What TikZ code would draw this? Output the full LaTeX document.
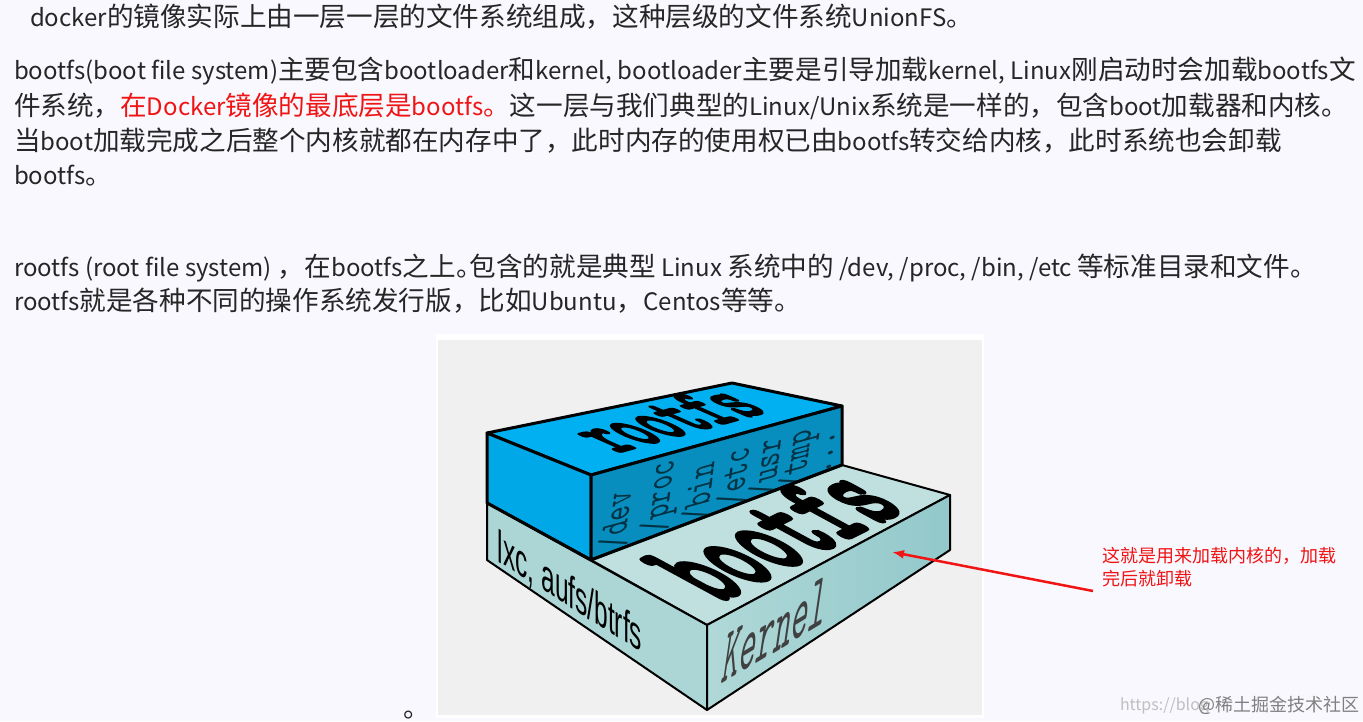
\documentclass[tikz,border=0pt]{standalone}
\usepackage{fontspec}
\usetikzlibrary{arrows.meta}
\setmainfont{Noto Sans CJK SC}
\newfontfamily\layersans{Liberation Sans}
\definecolor{mypage}{RGB}{248,248,254}
\definecolor{myshot}{RGB}{240,240,240}
\definecolor{myred}{RGB}{240,20,20}
\definecolor{myrootup}{RGB}{0,176,240}
\definecolor{myrootleft}{RGB}{0,168,232}
\definecolor{myrootfront}{RGB}{8,142,190}
\definecolor{mybootup}{RGB}{192,224,224}
\definecolor{mybootleft}{RGB}{172,214,214}
\definecolor{mybootfrontA}{RGB}{176,216,216}
\definecolor{mybootfrontB}{RGB}{146,200,202}
\newcommand{\lat}[1]{{\fontsize{24}{26}\selectfont #1}}
\newcommand{\thick}[2]{\special{pdf:code 2 Tr #1 w}#2\special{pdf:code 0 Tr}}
\tikzset{
    common/.style={anchor=base west, inner sep=0pt, outer sep=0pt},
    para/.style={common, font=\fontsize{26.6}{30}\selectfont, text=black!85},
    note/.style={common, font=\fontsize{18}{22}\selectfont, text=myred},
    face/.style={draw=black, line width=3pt, line join=round},
    thinface/.style={draw=black, line width=2pt, line join=round},
    skewed/.style={anchor=base, inner sep=0pt, transform shape},
    heavy/.style={skewed, font=\ttfamily\bfseries\fontsize{10}{12}\selectfont},
    dirname/.style={skewed, text=black!65!myrootfront, font=\ttfamily\fontsize{10}{12}\selectfont,
        cm={0.34,2.74,-4,-1.1,(0,0)}},
    stamp/.style={common, font=\fontsize{16}{20}\selectfont}
}

\begin{document}
\begin{tikzpicture}[x=1pt, y=-1pt]
    \useasboundingbox (0,0) rectangle (1363,721);
    \fill[mypage] (0,0) rectangle (1363,721);

    \node[para] (intro) at (30,26) {\lat{docker}的镜像实际上由一层一层的文件系统组成，这种层级的文件系统\lat{UnionFS}。};
    \node[para] (bootA) at (14,79) {\lat{bootfs(boot file system)}主要包含\lat{bootloader}和\lat{kernel, bootloader}主要是引导加载\lat{kernel, Linux}刚启动时会加载\lat{bootfs}文};
    \node[para] (bootB) at (14,115) {件系统，\textcolor{myred}{在\lat{Docker}镜像的最底层是\lat{bootfs}。}这一层与我们典型的\lat{Linux/Unix}系统是一样的，包含\lat{boot}加载器和内核。};
    \node[para] (bootC) at (14,150) {当\lat{boot}加载完成之后整个内核就都在内存中了，此时内存的使用权已由\lat{bootfs}转交给内核，此时系统也会卸载};
    \node[para] (bootD) at (14,184) {\lat{bootfs}。};
    \node[para] (rootA) at (14,276) {\lat{rootfs (root file system) }，\hspace{1pt}在\lat{bootfs}之上。\hspace{-13pt}包含的就是典型\lat{ Linux }系统中的\lat{ /dev, /proc, /bin, /etc }等标准目录和文件。};
    \node[para] (rootB) at (14,310) {\lat{rootfs}就是各种不同的操作系统发行版，比如\lat{Ubuntu}，\lat{Centos}等等。};
    \node[para] (dot) at (403,717) {。};

    \fill[white] (436,334) rectangle (984,718);
    \fill[myshot] (438,340) rectangle (982,715);

    \coordinate (ra) at (487,433);
    \coordinate (rb) at (732,383);
    \coordinate (rc) at (842,406);
    \coordinate (rd) at (591,475);
    \coordinate (re) at (487,503);
    \coordinate (rf) at (591,560);
    \coordinate (rg) at (842,465);
    \coordinate (bb) at (950,495);
    \coordinate (bc) at (707,625);
    \coordinate (bd) at (707,710);
    \coordinate (be) at (950,550);
    \coordinate (bf) at (487,560);

    \draw[face, fill=myrootup] (ra) -- (rb) -- (rc) -- (rd) -- cycle;
    \draw[face, fill=myrootleft] (ra) -- (rd) -- (rf) -- (re) -- cycle;
    \draw[face, fill=myrootfront] (rd) -- (rc) -- (rg) -- (rf) -- cycle;

    \node[dirname] (dev) at (628,518) {/dev};
    \node[dirname] (proc) at (670,495) {/proc};
    \node[dirname] (bin) at (711,490) {/bin};
    \node[dirname] (etc) at (746,475) {/etc};
    \node[dirname] (usr) at (778,465) {/usr};
    \node[dirname] (tmp) at (808,457) {/tmp};
    \node[dirname] (more) at (833,452) {...};

    \node[heavy, cm={4.85,1.33,-9.5,4.2,(0,0)}] (rootfs) at (694,432) {\thick{0.3}{rootfs}};

    \draw[thinface, fill=mybootup] (rf) -- (rg) -- (bb) -- (bc) -- cycle;
    \draw[thinface, fill=mybootleft] (re) -- (bc) -- (bd) -- (bf) -- cycle;
    \shade[left color=mybootfrontA, right color=mybootfrontB] (bc) -- (bb) -- (be) -- (bd) -- cycle;
    \draw[thinface] (bc) -- (bb) -- (be) -- (bd) -- cycle;
    \draw[face] (re) -- (rf) -- (rg);

    \node[heavy, cm={6,3,-12.9,7,(0,0)}] (bootfs) at (813,556) {\thick{0.35}{bootfs}};
    \node[skewed, cm={2.45,-1.55,0,4.6,(0,0)}, font=\layersans\fontsize{10}{12}\selectfont] (union) at (570,607) {lxc, aufs/btrfs};
    \node[skewed, cm={3.24,1.96,1.2,8.2,(0,0)}, text=black!75, font=\ttfamily\fontsize{10}{12}\selectfont] (kernel) at (772,654) {Kernel};

    \node[note] (noteA) at (1102,562) {这就是用来加载内核的，加载};
    \node[note] (noteB) at (1102,585) {完后就卸载};
    \coordinate (tail) at (1093,591);
    \coordinate (head) at (892,552);
    \draw[-{Latex[length=12pt,width=9pt]}, myred, line width=2.5pt] (tail) -- (head);

    \node[stamp, text=black!25] (blog) at (1120,710) {https://blog};
    \node[stamp, text=black!50, font=\fontsize{18}{20}\selectfont] (juejin) at (1198,711) {@稀土掘金技术社区};
\end{tikzpicture}
\end{document}
